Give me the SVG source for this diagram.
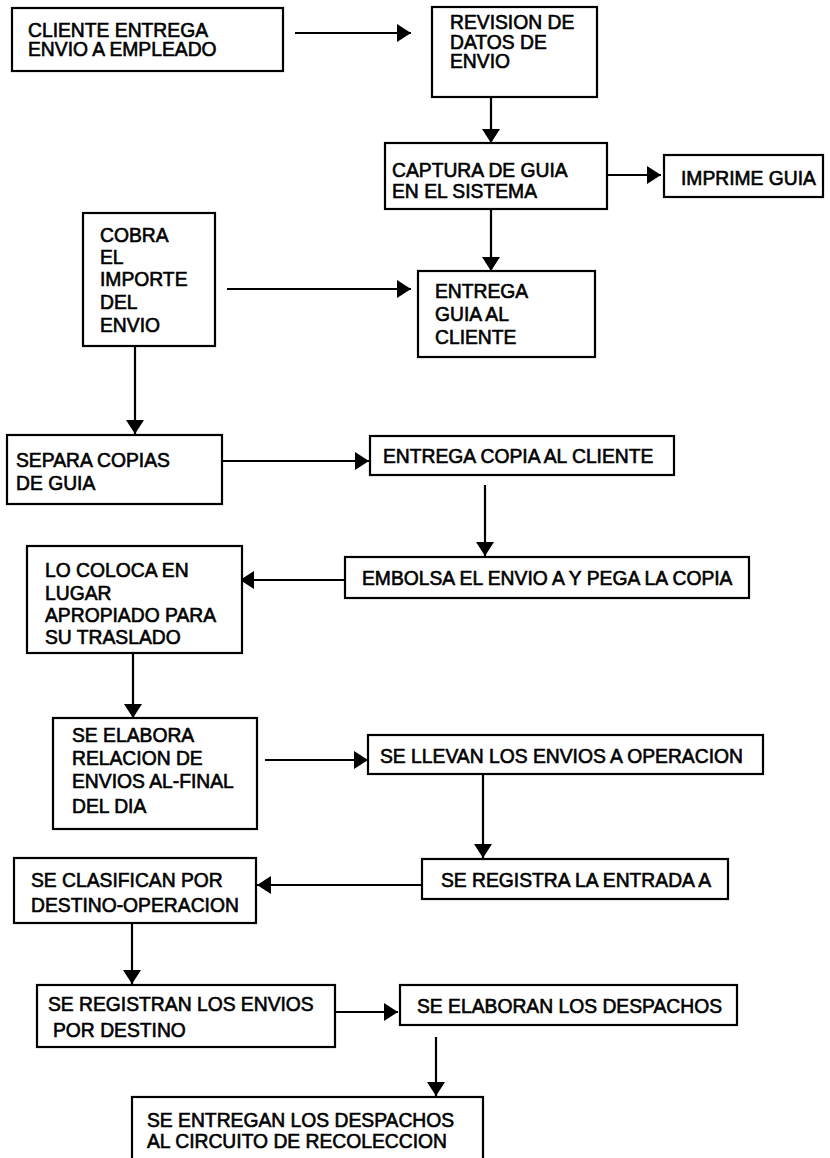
<svg xmlns="http://www.w3.org/2000/svg" width="830" height="1158" viewBox="0 0 830 1158">
<defs>
<marker id="ah" markerUnits="userSpaceOnUse" markerWidth="15" markerHeight="19" refX="14" refY="9" orient="auto">
<path d="M0,0 L14,9 L0,18 z" fill="#000"/>
</marker>
<style>
.box{fill:#fff;stroke:#000;stroke-width:2.2}
.t{font-family:"Liberation Sans",Arial,sans-serif;font-size:19.3px;fill:#000;stroke:#000;stroke-width:0.6}
.c{stroke:#000;stroke-width:2.2;fill:none;marker-end:url(#ah)}
</style>
</defs>
<rect width="830" height="1158" fill="#fff"/>
<g id="connectors">
<line class="c" x1="295" y1="33" x2="411" y2="33"/>
<line class="c" x1="491" y1="97" x2="491" y2="143"/>
<line class="c" x1="607" y1="175" x2="661" y2="175"/>
<line class="c" x1="491" y1="209" x2="491" y2="271"/>
<line class="c" x1="227" y1="289" x2="411" y2="289"/>
<line class="c" x1="135" y1="346" x2="135" y2="434"/>
<line class="c" x1="222" y1="461" x2="369" y2="461"/>
<line class="c" x1="485" y1="485" x2="485" y2="556"/>
<line class="c" x1="345" y1="580" x2="240" y2="580"/>
<line class="c" x1="133" y1="653" x2="133" y2="718"/>
<line class="c" x1="265" y1="760" x2="368" y2="760"/>
<line class="c" x1="483" y1="774" x2="483" y2="858"/>
<line class="c" x1="422" y1="885" x2="257" y2="885"/>
<line class="c" x1="132" y1="923" x2="132" y2="984"/>
<line class="c" x1="335" y1="1012" x2="398" y2="1012"/>
<line class="c" x1="436" y1="1037" x2="436" y2="1096"/>
</g>
<g id="n1"><rect class="box" x="12" y="8" width="271" height="63"/><text class="t" x="28" y="37">CLIENTE ENTREGA</text><text class="t" x="28" y="56">ENVIO A EMPLEADO</text></g>
<g id="n2"><rect class="box" x="432" y="7" width="165" height="90"/><text class="t" x="450" y="29">REVISION DE</text><text class="t" x="450" y="49">DATOS DE</text><text class="t" x="450" y="68">ENVIO</text></g>
<g id="n3"><rect class="box" x="385" y="143" width="222" height="66"/><text class="t" x="392" y="177">CAPTURA DE GUIA</text><text class="t" x="392" y="198">EN EL SISTEMA</text></g>
<g id="n4"><rect class="box" x="664" y="155" width="159" height="42"/><text class="t" x="681" y="185">IMPRIME GUIA</text></g>
<g id="n5"><rect class="box" x="83" y="213" width="132" height="133"/><text class="t" x="100" y="242">COBRA</text><text class="t" x="100" y="264">EL</text><text class="t" x="100" y="286">IMPORTE</text><text class="t" x="100" y="309">DEL</text><text class="t" x="100" y="332">ENVIO</text></g>
<g id="n6"><rect class="box" x="418" y="271" width="177" height="86"/><text class="t" x="435" y="298">ENTREGA</text><text class="t" x="435" y="321">GUIA AL</text><text class="t" x="435" y="344">CLIENTE</text></g>
<g id="n7"><rect class="box" x="7" y="435" width="215" height="69"/><text class="t" x="16" y="467">SEPARA COPIAS</text><text class="t" x="16" y="490">DE GUIA</text></g>
<g id="n8"><rect class="box" x="370" y="436" width="304" height="39"/><text class="t" x="383" y="463">ENTREGA COPIA AL CLIENTE</text></g>
<g id="n9"><rect class="box" x="345" y="557" width="404" height="41"/><text class="t" x="362" y="585">EMBOLSA EL ENVIO A Y PEGA LA COPIA</text></g>
<g id="n10"><rect class="box" x="27" y="546" width="215" height="107"/><text class="t" x="45" y="577">LO COLOCA EN</text><text class="t" x="45" y="600">LUGAR</text><text class="t" x="45" y="622">APROPIADO PARA</text><text class="t" x="45" y="644">SU TRASLADO</text></g>
<g id="n11"><rect class="box" x="53" y="718" width="204" height="111"/><text class="t" x="72" y="742">SE ELABORA</text><text class="t" x="72" y="765">RELACION DE</text><text class="t" x="72" y="788">ENVIOS AL-FINAL</text><text class="t" x="72" y="813">DEL DIA</text></g>
<g id="n12"><rect class="box" x="368" y="735" width="395" height="39"/><text class="t" x="380" y="763">SE LLEVAN LOS ENVIOS A OPERACION</text></g>
<g id="n13"><rect class="box" x="422" y="859" width="306" height="40"/><text class="t" x="441" y="887">SE REGISTRA LA ENTRADA A</text></g>
<g id="n14"><rect class="box" x="14" y="858" width="242" height="65"/><text class="t" x="31" y="887">SE CLASIFICAN POR</text><text class="t" x="31" y="912">DESTINO-OPERACION</text></g>
<g id="n15"><rect class="box" x="37" y="985" width="298" height="62"/><text class="t" x="48" y="1011">SE REGISTRAN LOS ENVIOS</text><text class="t" x="53" y="1037">POR DESTINO</text></g>
<g id="n16"><rect class="box" x="400" y="985" width="337" height="40"/><text class="t" x="417" y="1013">SE ELABORAN LOS DESPACHOS</text></g>
<g id="n17"><rect class="box" x="132" y="1097" width="351" height="70"/><text class="t" x="147" y="1127">SE ENTREGAN LOS DESPACHOS</text><text class="t" x="147" y="1148">AL CIRCUITO DE RECOLECCION</text></g>
</svg>
